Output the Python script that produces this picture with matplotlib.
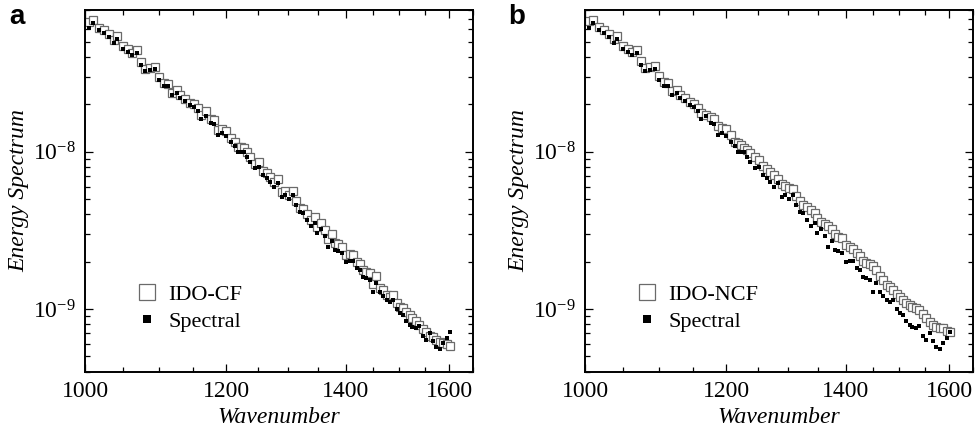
import numpy as np
import matplotlib
matplotlib.use("Agg")
import matplotlib.pyplot as plt
from matplotlib.ticker import FixedLocator, NullFormatter, FuncFormatter, LogLocator

plt.rcParams['font.family'] = ['Liberation Serif', 'DejaVu Serif']
plt.rcParams['mathtext.fontset'] = 'custom'
plt.rcParams['mathtext.rm'] = 'Liberation Serif'
plt.rcParams['mathtext.it'] = 'Liberation Serif:italic'

# Wavenumbers of the sampled spectral modes
wavenumber = [
    1005, 1011, 1018, 1025, 1031, 1038, 1042, 1050, 1057, 1063, 1069, 1075, 1081,
    1087, 1094, 1100, 1107, 1113, 1119, 1126, 1131, 1138, 1145, 1151, 1157,
    1162, 1169, 1176, 1181, 1188, 1194, 1200, 1207, 1213, 1218, 1223, 1228, 1233,
    1238, 1245, 1251, 1258, 1264, 1269, 1276, 1283, 1289, 1295, 1301, 1308, 1313,
    1319, 1325,
    1332, 1338, 1345, 1349, 1356, 1363, 1369, 1376, 1381, 1387, 1393, 1401, 1408,
    1414, 1420, 1427, 1432, 1438, 1445, 1451, 1456, 1463, 1469, 1476, 1482, 1489,
    1495, 1501, 1508, 1514, 1521, 1526, 1533, 1539, 1546, 1553, 1560, 1567, 1574,
    1581, 1588, 1595, 1601,
]

# Reference spectral solution
spectral = [
    6.14e-8, 6.58e-8, 5.91e-8, 5.71e-8, 5.38e-8, 4.93e-8, 5.23e-8, 4.52e-8, 4.30e-8,
    4.10e-8, 4.26e-8, 3.57e-8, 3.24e-8, 3.29e-8, 3.34e-8, 2.87e-8, 2.62e-8, 2.62e-8,
    2.28e-8, 2.37e-8, 2.20e-8, 2.09e-8, 1.97e-8, 1.93e-8, 1.81e-8,
    1.61e-8, 1.69e-8, 1.52e-8, 1.49e-8, 1.28e-8, 1.31e-8, 1.26e-8, 1.15e-8, 1.08e-8,
    1.00e-8, 1.00e-8, 9.91e-9, 9.29e-9, 8.64e-9, 7.84e-9, 8.03e-9, 7.11e-9, 6.83e-9,
    6.45e-9, 5.99e-9, 6.30e-9, 5.17e-9, 5.30e-9, 5.00e-9, 5.30e-9, 4.58e-9, 4.12e-9,
    4.06e-9,
    3.68e-9, 3.37e-9, 3.54e-9, 3.03e-9, 3.21e-9, 2.91e-9, 2.49e-9, 2.72e-9, 2.37e-9,
    2.35e-9, 2.28e-9, 2.00e-9, 2.03e-9, 2.03e-9, 1.83e-9, 1.77e-9, 1.60e-9, 1.58e-9,
    1.53e-9, 1.29e-9, 1.47e-9, 1.29e-9, 1.21e-9, 1.14e-9, 1.11e-9, 1.15e-9,
    9.96e-10, 9.47e-10, 9.16e-10, 8.43e-10, 7.91e-10, 7.72e-10, 7.54e-10, 7.80e-10,
    6.73e-10, 6.35e-10, 7.07e-10, 6.26e-10, 5.71e-10, 5.57e-10, 6.11e-10, 6.51e-10,
    7.17e-10,
]

# IDO scheme with compact filter
ido_cf = [
    6.70e-8, 6.82e-8, 6.13e-8, 5.92e-8, 5.58e-8, 5.15e-8, 5.42e-8, 4.69e-8, 4.46e-8,
    4.25e-8, 4.42e-8, 3.70e-8, 3.36e-8, 3.41e-8, 3.46e-8, 2.98e-8, 2.72e-8, 2.70e-8,
    2.36e-8, 2.46e-8, 2.28e-8, 2.17e-8, 2.04e-8, 2.00e-8, 1.88e-8,
    1.72e-8, 1.80e-8, 1.62e-8, 1.59e-8, 1.37e-8, 1.40e-8, 1.35e-8, 1.23e-8, 1.15e-8,
    1.07e-8, 1.07e-8, 1.06e-8, 9.92e-9, 9.23e-9, 8.37e-9, 8.58e-9, 7.59e-9, 7.29e-9,
    6.89e-9, 6.40e-9, 6.73e-9, 5.52e-9, 5.66e-9, 5.34e-9, 5.66e-9, 4.89e-9, 4.40e-9,
    4.34e-9,
    4.02e-9, 3.68e-9, 3.87e-9, 3.31e-9, 3.51e-9, 3.18e-9, 2.80e-9, 2.99e-9, 2.63e-9,
    2.60e-9, 2.49e-9, 2.22e-9, 2.24e-9, 2.22e-9, 1.98e-9, 1.93e-9, 1.76e-9, 1.73e-9,
    1.69e-9, 1.45e-9, 1.62e-9, 1.37e-9, 1.32e-9, 1.22e-9, 1.19e-9, 1.23e-9,
    1.09e-9, 1.03e-9, 1.015e-9, 9.57e-10, 9.16e-10, 8.77e-10, 8.39e-10, 7.91e-10,
    7.46e-10, 7.17e-10, 6.78e-10, 6.64e-10, 6.35e-10, 6.20e-10, 6.08e-10, 5.99e-10,
    5.84e-10,
]

# IDO scheme without compact filter
ido_ncf = [
    6.75e-8, 6.90e-8, 6.20e-8, 5.95e-8, 5.62e-8, 5.20e-8, 5.45e-8, 4.72e-8, 4.50e-8,
    4.30e-8, 4.45e-8, 3.74e-8, 3.40e-8, 3.45e-8, 3.50e-8, 3.02e-8, 2.76e-8, 2.74e-8,
    2.42e-8, 2.48e-8, 2.30e-8, 2.20e-8, 2.08e-8, 2.02e-8, 1.90e-8,
    1.76e-8, 1.70e-8, 1.66e-8, 1.61e-8, 1.46e-8, 1.41e-8, 1.39e-8, 1.27e-8, 1.16e-8,
    1.14e-8, 1.10e-8, 1.06e-8, 1.02e-8, 9.81e-9, 9.25e-9, 8.79e-9, 8.11e-9, 7.76e-9,
    7.46e-9, 7.11e-9, 6.75e-9, 6.23e-9, 6.01e-9, 5.85e-9, 5.79e-9, 5.19e-9, 4.86e-9,
    4.58e-9,
    4.48e-9, 4.29e-9, 4.08e-9, 3.79e-9, 3.57e-9, 3.45e-9, 3.35e-9, 3.23e-9, 2.98e-9,
    2.89e-9, 2.81e-9, 2.55e-9, 2.49e-9, 2.42e-9, 2.27e-9, 2.16e-9, 2.02e-9, 1.96e-9,
    1.92e-9, 1.88e-9, 1.77e-9, 1.62e-9, 1.53e-9, 1.42e-9, 1.39e-9, 1.32e-9,
    1.25e-9, 1.19e-9, 1.14e-9, 1.10e-9, 1.06e-9, 1.03e-9, 1.01e-9, 9.85e-10,
    9.29e-10, 8.73e-10, 8.33e-10, 7.91e-10, 7.74e-10, 7.63e-10, 7.54e-10, 7.30e-10,
    7.17e-10,
]

x_major = [1000, 1200, 1400, 1600]
x_minor = [1050, 1100, 1150, 1250, 1300, 1350, 1450, 1500, 1550, 1650]
y_major = [1e-9, 1e-8]
panel_labels = ['a', 'b']
scheme_names = ['IDO-CF', 'IDO-NCF']
scheme_values = [ido_cf, ido_ncf]

fig = plt.figure(figsize=(9.77, 4.33), dpi=100)
ax_w = 388 / 977
ax_h = 362.2 / 433
ax_b = (433 - 371.7) / 433
lefts = [85 / 977, 585 / 977]

for left, plab, name, values in zip(lefts, panel_labels, scheme_names, scheme_values):
    ax = fig.add_axes([left, ax_b, ax_w, ax_h])
    ax.plot(wavenumber, values, ls='none', marker='s', ms=5.6, mfc='white',
            mec='#6a6a6a', mew=0.9, label=name, zorder=2)
    ax.plot(wavenumber, spectral, ls='none', marker='s', ms=3.0, mfc='black',
            mec='black', mew=0.0, label='Spectral', zorder=3)

    ax.set_xscale('log')
    ax.set_yscale('log')
    ax.set_xlim(1000, 1650)
    ax.set_ylim(4e-10, 8e-8)

    ax.xaxis.set_major_locator(FixedLocator(x_major))
    ax.xaxis.set_minor_locator(FixedLocator(x_minor))
    ax.xaxis.set_major_formatter(FuncFormatter(lambda v, p: f'{v:.0f}'))
    ax.xaxis.set_minor_formatter(NullFormatter())
    ax.yaxis.set_major_locator(FixedLocator(y_major))
    ax.yaxis.set_minor_locator(LogLocator(base=10, subs=range(2, 10), numticks=10))
    ax.yaxis.set_major_formatter(
        FuncFormatter(lambda v, p: r'$10^{%d}$' % int(round(np.log10(v)))))
    ax.yaxis.set_minor_formatter(NullFormatter())

    ax.tick_params(which='both', direction='in', top=True, right=True,
                   width=0.9, labelsize=17)
    ax.tick_params(which='major', length=6.0, pad=7)
    ax.tick_params(which='minor', length=3.6)
    for sp in ax.spines.values():
        sp.set_linewidth(1.4)

    ax.set_xlabel('Wavenumber', fontsize=17, style='italic', labelpad=3)
    ax.set_ylabel('Energy Spectrum', fontsize=17, style='italic', labelpad=2)

    ax.legend(loc='center left', bbox_to_anchor=(0.131, 0.176), frameon=False,
              fontsize=16, markerscale=2.0, handlelength=1.0, handletextpad=0.45,
              labelspacing=0.3, borderpad=0.0, borderaxespad=0.0)

    fig.text(left - 68 / 977, 1 - 17 / 433, plab, ha='center', va='center',
             fontsize=20, fontweight='bold', family='Liberation Sans')

fig.savefig('out.png', dpi=100)
